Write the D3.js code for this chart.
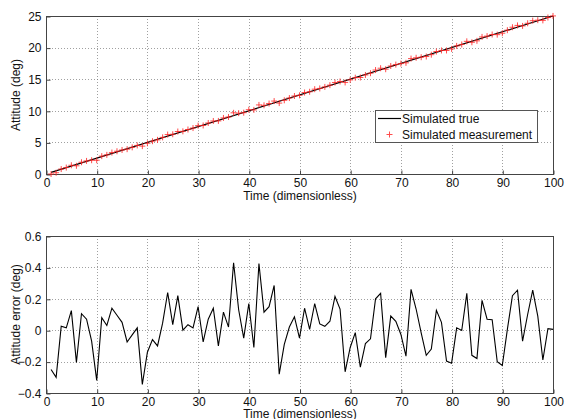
<!DOCTYPE html>
<html>
<head>
<meta charset="utf-8">
<script src="https://cdn.jsdelivr.net/npm/d3@7"></script>
<style>
  body { margin: 0; background: #fff; }
  svg { display: block; font-family: "Liberation Sans", Arial, sans-serif; }
</style>
</head>
<body>
<div id="chart"></div>
<script>
// time steps
const timeSteps = d3.range(1, 101);

// simulated true attitude (straight line)
const trueTime = [1, 100];
const trueAttitude = [0.25, 25];

// simulated measurement (deg)
const measuredAttitude = [
  0.00, 0.20, 0.78, 1.02, 1.38, 1.30, 1.86, 2.07, 2.18, 2.18,
  2.83, 3.03, 3.39, 3.60, 3.80, 3.93, 4.22, 4.52, 4.41, 4.86,
  5.19, 5.40, 5.80, 6.24, 6.29, 6.72, 6.75, 7.04, 7.27, 7.65,
  7.68, 8.07, 8.39, 8.40, 8.87, 9.02, 9.68, 9.63, 9.70, 10.17,
  10.14, 10.93, 10.87, 11.15, 11.54, 11.22, 11.66, 12.02, 12.34, 12.45,
  12.89, 13.01, 13.42, 13.54, 13.78, 14.06, 14.47, 14.64, 14.49, 14.89,
  15.24, 15.27, 15.67, 15.95, 16.45, 16.74, 16.58, 17.09, 17.31, 17.47,
  17.59, 18.26, 18.39, 18.48, 18.59, 18.88, 19.38, 19.55, 19.55, 19.79,
  20.27, 20.50, 20.99, 20.84, 21.07, 21.69, 21.82, 22.07, 22.05, 22.28,
  22.76, 23.22, 23.51, 23.43, 23.85, 24.26, 24.34, 24.31, 24.76, 25.01
];

// attitude error (deg)
const attitudeError = [
  -0.25, -0.30, 0.025, 0.015, 0.125, -0.205, 0.105, 0.07, -0.07, -0.32,
  0.08, 0.03, 0.14, 0.095, 0.05, -0.075, -0.03, 0.015, -0.345, -0.14,
  -0.06, -0.10, 0.045, 0.24, 0.035, 0.22, 0.0, 0.035, 0.015, 0.15,
  -0.075, 0.07, 0.14, -0.10, 0.115, 0.02, 0.43, 0.13, -0.05, 0.17,
  -0.11, 0.425, 0.115, 0.15, 0.285, -0.28, -0.09, 0.02, 0.085, -0.05,
  0.14, 0.005, 0.17, 0.04, 0.025, 0.057, 0.215, 0.135, -0.265, -0.11,
  -0.015, -0.235, -0.085, -0.055, 0.20, 0.235, -0.175, 0.09, 0.057, -0.027,
  -0.165, 0.26, 0.135, -0.017, -0.16, -0.12, 0.127, 0.05, -0.197, -0.21,
  0.015, -0.002, 0.235, -0.16, -0.18, 0.19, 0.07, 0.067, -0.20, -0.225,
  0.005, 0.22, 0.255, -0.07, 0.10, 0.255, 0.09, -0.19, 0.01, 0.005
];

const xTicks = d3.range(0, 101, 10);
const topYTicks = [0, 5, 10, 15, 20, 25];
const bottomYTicks = [-0.4, -0.2, 0, 0.2, 0.4, 0.6];
const legendLabels = ["Simulated true", "Simulated measurement"];

const W = 566, H = 419;
const svg = d3.select("#chart").append("svg")
  .attr("width", W).attr("height", H);

const x = d3.scaleLinear().domain([0, 100]).range([46, 553]);
const yTop = d3.scaleLinear().domain([0, 25]).range([174, 16]);
const yBot = d3.scaleLinear().domain([-0.4, 0.6]).range([393, 236]);

function drawPanel(y, yTicks, yFmt, yLabel, labelY) {
  const g = svg.append("g");
  const [x0, x1] = x.range();
  const [y0, y1] = y.range();

  // grid
  g.selectAll(".vg").data(xTicks.slice(1, -1)).enter().append("line")
    .attr("x1", d => Math.round(x(d)) + 0.5).attr("x2", d => Math.round(x(d)) + 0.5)
    .attr("y1", y1).attr("y2", y0)
    .attr("stroke", "#777").attr("stroke-width", 0.7).attr("stroke-dasharray", "1,2");
  g.selectAll(".hg").data(yTicks.slice(1, -1)).enter().append("line")
    .attr("x1", x0).attr("x2", x1)
    .attr("y1", d => Math.round(y(d)) + 0.5).attr("y2", d => Math.round(y(d)) + 0.5)
    .attr("stroke", "#777").attr("stroke-width", 0.7).attr("stroke-dasharray", "1,2");

  // box
  g.append("rect").attr("x", x0 + 0.5).attr("y", y1 + 0.5)
    .attr("width", x1 - x0).attr("height", y0 - y1)
    .attr("fill", "none").attr("stroke", "#444").attr("stroke-width", 1);

  // axes with inward ticks
  const xa = g.append("g").attr("transform", `translate(0.5,${y0 + 0.5})`)
    .call(d3.axisBottom(x).tickValues(xTicks).tickSize(-4).tickPadding(4).tickFormat(d3.format("d")));
  const ya = g.append("g").attr("transform", `translate(${x0 + 0.5},0.5)`)
    .call(d3.axisLeft(y).tickValues(yTicks).tickSize(-4).tickPadding(5).tickFormat(yFmt));
  [xa, ya].forEach(a => {
    a.select(".domain").remove();
    a.selectAll("line").attr("stroke", "#444");
    a.selectAll("text").attr("font-size", 12).attr("fill", "#111")
      .attr("font-family", "'Liberation Sans', Arial, sans-serif");
  });

  // labels
  g.append("text").attr("x", 300).attr("y", labelY)
    .attr("text-anchor", "middle").attr("font-size", 12).attr("fill", "#111")
    .text("Time (dimensionless)");
  g.append("text")
    .attr("transform", `translate(20,${(y0 + y1) / 2}) rotate(-90)`)
    .attr("text-anchor", "middle").attr("font-size", 12).attr("fill", "#111")
    .text(yLabel);
  return g;
}

// top panel
const gTop = drawPanel(yTop, topYTicks, d3.format("d"), "Attitude (deg)", 200);

gTop.append("path")
  .datum(trueTime.map((t, i) => [t, trueAttitude[i]]))
  .attr("fill", "none").attr("stroke", "#000").attr("stroke-width", 1.2)
  .attr("d", d3.line().x(d => x(d[0])).y(d => yTop(d[1])));

gTop.selectAll(".meas").data(timeSteps).enter().append("path")
  .attr("d", "M-3,0H3M0,-3V3")
  .attr("transform", (d, i) => `translate(${x(d)},${yTop(measuredAttitude[i])})`)
  .attr("stroke", "#ff2020").attr("stroke-width", 1).attr("fill", "none").attr("opacity", 0.8);

// legend
const lg = gTop.append("g");
lg.append("rect").attr("x", 375.5).attr("y", 110.5).attr("width", 162).attr("height", 32)
  .attr("fill", "#fff").attr("stroke", "#555").attr("stroke-width", 1);
lg.append("line").attr("x1", 378).attr("x2", 401).attr("y1", 118.5).attr("y2", 118.5)
  .attr("stroke", "#000").attr("stroke-width", 1.2);
lg.append("path").attr("d", "M-3,0H3M0,-3V3").attr("transform", "translate(389.5,134.5)")
  .attr("stroke", "#ff2020").attr("stroke-width", 1).attr("opacity", 0.8);
lg.selectAll(".lt").data(legendLabels).enter().append("text")
  .attr("x", 402).attr("y", (d, i) => 122.5 + i * 16)
  .attr("font-size", 12).attr("fill", "#111").text(d => d);

// bottom panel
const gBot = drawPanel(yBot, bottomYTicks, d => d === 0 ? "0" : d3.format(".1f")(d), "Attitude error (deg)", 418);

gBot.append("path")
  .datum(timeSteps.map((t, i) => [t, attitudeError[i]]))
  .attr("fill", "none").attr("stroke", "#000").attr("stroke-width", 1.1)
  .attr("d", d3.line().x(d => x(d[0])).y(d => yBot(d[1])));
</script>
</body>
</html>
